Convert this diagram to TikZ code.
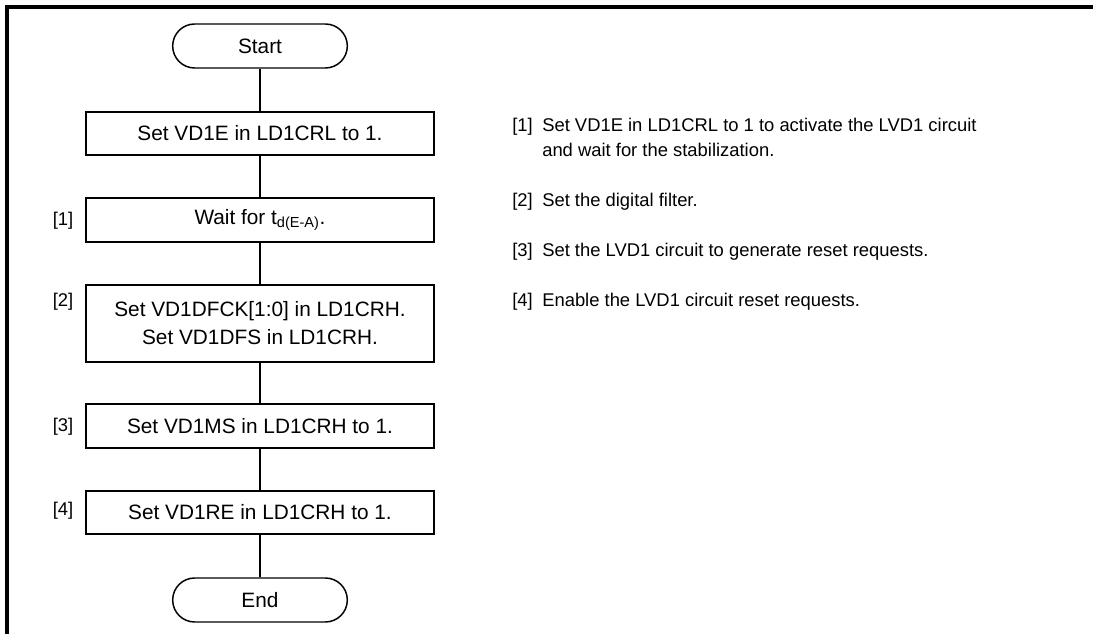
\documentclass[tikz,border=0pt]{standalone}
\usepackage{fontspec}
\setmainfont{Liberation Sans}
\begin{document}
\begin{tikzpicture}[x=0.75pt,y=-0.75pt,
  boite/.style={draw,line width=1.5pt,inner sep=0pt,minimum width=261pt,minimum height=32.5pt,
    font=\fontsize{15.6}{21}\selectfont,align=center},
  terminal/.style={draw,line width=1.1pt,inner sep=0pt,minimum width=131pt,minimum height=33pt,
    rounded corners=16.5pt,font=\fontsize{15.6}{19}\selectfont},
  repere/.style={font=\fontsize{13.8}{17}\selectfont},
  lien/.style={line width=0.8pt}]
\useasboundingbox (0,0) rectangle (1093,634);
% Cadre
\draw[line width=2.3pt] (7,640) -- (7,7) -- (1100,7);
% Organigramme
\node[terminal] (debut) at (260,46) {Start};
\node[boite] (e1) at (260,133.5) {Set VD1E in LD1CRL to 1.};
\node[boite] (e2) at (260,220) {Wait for t\textsubscript{d(E-A)}.};
\node[boite,minimum height=57.75pt] (e3) at (260,323.5) {Set VD1DFCK[1:0] in LD1CRH.\\Set VD1DFS in LD1CRH.};
\node[boite] (e4) at (260,426) {Set VD1MS in LD1CRH to 1.};
\node[boite] (e5) at (260,512.5) {Set VD1RE in LD1CRH to 1.};
\node[terminal] (fin) at (260,600) {End};
\draw[lien] (debut) -- (e1) -- (e2) -- (e3) -- (e4) -- (e5) -- (fin);
% Reperes
\foreach \n/\y in {1/221, 2/302, 3/427, 4/511} {
\node[repere,anchor=east] (rep\n) at (78,\y) {[\n]};
}
% Explications
\foreach \n/\y/\texte in {1/132/Set VD1E in LD1CRL to 1 to activate the LVD1 circuit,
  2/207/Set the digital filter., 3/257/Set the LVD1 circuit to generate reset requests.,
  4/307/Enable the LVD1 circuit reset requests.} {
\node[repere,anchor=base west,inner sep=0pt] (num\n) at (512,\y) {[\n]};
\node[repere,anchor=base west,inner sep=0pt] (expl\n) at (542,\y) {\texte};
}
\node[repere,anchor=base west,inner sep=0pt] (expl1b) at (542,157) {and wait for the stabilization.};
\end{tikzpicture}
\end{document}
